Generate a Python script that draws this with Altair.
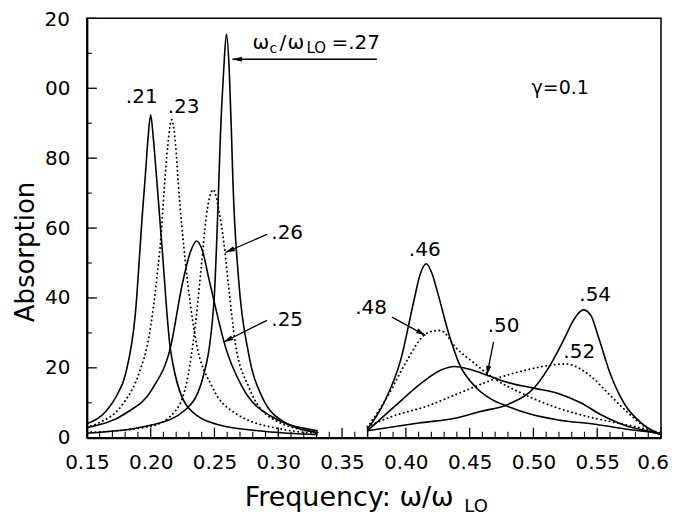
import math
import altair as alt
import pandas as pd

# ---------------- curve data ----------------
c21_x = [0.150, 0.165, 0.173, 0.1805, 0.188, 0.1935, 0.196, 0.198, 0.200, 0.202, 0.2045, 0.209, 0.2156, 0.2297, 0.2531, 0.290, 0.331]
c21_y = [4.0, 7.6, 11.8, 18.5, 35.5, 64.0, 76.0, 86.0, 92.4, 86.0, 75.0, 54.0, 25.0, 8.5, 3.7, 1.8, 0.9]

c23_x = [0.150, 0.1596, 0.1779, 0.1909, 0.1987, 0.2052, 0.2086, 0.2104, 0.2135, 0.2164, 0.2195, 0.2216, 0.2273, 0.235, 0.2482, 0.2664, 0.305, 0.331]
c23_y = [3.0, 4.3, 9.5, 18.5, 29.0, 47.0, 60.0, 70.0, 84.0, 91.0, 84.0, 73.0, 50.0, 28.7, 14.6, 7.0, 2.3, 1.3]

c25_x = [0.150, 0.1805, 0.2013, 0.2156, 0.2248, 0.231, 0.236, 0.241, 0.2453, 0.2508, 0.2586, 0.2716, 0.2951, 0.331]
c25_y = [2.9, 7.0, 14.0, 26.0, 44.0, 53.0, 56.3, 53.0, 46.0, 37.3, 26.0, 14.6, 6.0, 2.0]

c26_x = [0.150, 0.1992, 0.2201, 0.2305, 0.2357, 0.2396, 0.2435, 0.249, 0.2535, 0.2573, 0.2612, 0.2664, 0.2768, 0.2951, 0.331]
c26_y = [1.5, 3.2, 8.0, 20.3, 34.5, 48.7, 63.0, 71.0, 65.0, 56.0, 43.0, 27.0, 14.6, 5.5, 1.5]

c27_x = [0.150, 0.2013, 0.2273, 0.2404, 0.2495, 0.2534, 0.2545, 0.2572, 0.2594, 0.2616, 0.2635, 0.2645, 0.269, 0.2768, 0.2873, 0.3055, 0.331]
c27_y = [1.3, 3.7, 8.0, 16.5, 38.4, 73.0, 85.0, 105.0, 115.5, 105.0, 85.0, 73.0, 45.0, 24.0, 11.7, 4.3, 1.5]

c46_x = [0.370, 0.3828, 0.3959, 0.4063, 0.411, 0.416, 0.4205, 0.4245, 0.4336, 0.4414, 0.4544, 0.4662, 0.4805, 0.4974, 0.5195, 0.5495, 0.5716, 0.5963, 0.600]
c46_y = [2.5, 10.0, 22.2, 39.2, 46.5, 49.8, 47.0, 42.1, 29.8, 21.5, 14.6, 11.2, 8.9, 6.8, 5.1, 3.8, 2.5, 1.3, 1.0]

c48_x = [0.370, 0.3854, 0.401, 0.4141, 0.4210, 0.4271, 0.431, 0.4375, 0.452, 0.469, 0.491, 0.516, 0.543, 0.570, 0.5898, 0.600]
c48_y = [3.0, 11.7, 22.2, 29.3, 30.5, 30.7, 29.8, 26.5, 21.8, 17.0, 12.7, 8.9, 6.0, 3.9, 2.3, 1.3]

c50_x = [0.370, 0.391, 0.4134, 0.4271, 0.438, 0.450, 0.460, 0.478, 0.500, 0.520, 0.537, 0.553, 0.572, 0.597, 0.600]
c50_y = [2.0, 8.9, 16.0, 19.3, 20.4, 19.6, 18.4, 16.0, 14.2, 12.6, 10.0, 6.6, 3.5, 1.3, 1.0]

c52_x = [0.370, 0.3893, 0.4154, 0.4414, 0.4674, 0.4935, 0.5143, 0.525, 0.5456, 0.5586, 0.5716, 0.5872, 0.600]
c52_y = [3.2, 6.1, 8.9, 12.7, 16.5, 19.3, 20.8, 21.1, 17.4, 12.7, 8.0, 3.2, 1.0]

c54_x = [0.370, 0.410, 0.4414, 0.4583, 0.4805, 0.5013, 0.5143, 0.5248, 0.5313, 0.5391, 0.545, 0.5508, 0.5605, 0.5716, 0.5846, 0.5977, 0.600]
c54_y = [2.0, 4.2, 5.8, 7.5, 9.6, 14.6, 21.5, 28.8, 33.6, 36.6, 35.0, 29.0, 18.0, 9.5, 4.2, 1.3, 1.0]

curve_names = [".21", ".23", ".25", ".26", ".27", ".46", ".48", ".50", ".52", ".54"]
curve_styles = ["solid", "dotted", "solid", "dotted", "solid", "solid", "dotted", "solid", "dotted", "solid"]
curve_xs = [c21_x, c23_x, c25_x, c26_x, c27_x, c46_x, c48_x, c50_x, c52_x, c54_x]
curve_ys = [c21_y, c23_y, c25_y, c26_y, c27_y, c46_y, c48_y, c50_y, c52_y, c54_y]

# labels of curves
lbl_text = [".21", ".23", ".26", ".25", ".46", ".48", ".50", ".52", ".54"]
lbl_x = [0.1930, 0.2258, 0.3070, 0.3070, 0.4148, 0.3727, 0.4766, 0.5359, 0.5484]
lbl_y = [97.5, 94.7, 58.6, 33.8, 53.7, 37.0, 32.1, 24.5, 40.7]

# arrows (tail -> head)
arr_x0 = [0.3773, 0.2912, 0.2912, 0.3891, 0.4688]
arr_y0 = [108.3, 58.2, 33.6, 34.5, 27.4]
arr_x1 = [0.2641, 0.2586, 0.2573, 0.4153, 0.4635]
arr_y1 = [108.3, 53.0, 27.4, 29.3, 17.9]

ann27_x = [0.2799]
ann27_y = [111.2]
ann27_parts = ["ω", "c", "/", "ω", "LO", "=.27"]

gamma_text = ["γ=0.1"]
gamma_x = [0.5210]
gamma_y = [100.1]

gap_x = [0.37]
gap_y0 = [0.0]
gap_y1 = [3.2]

x_major = [0.15, 0.20, 0.25, 0.30, 0.35, 0.40, 0.45, 0.50, 0.55, 0.60]
x_minor = [round(0.15 + 0.01 * i, 2) for i in range(46) if i % 5 != 0]
y_major = [0, 20, 40, 60, 80, 100, 120]
y_minor = [10, 30, 50, 70, 90, 110]
last_x_label = ["0.6"]
last_x_value = [0.60]
top_y_label = ["20"]

# ---------------- chart ----------------
W, H = 575, 420
FONT = "DejaVu Sans"

rows = []
for name, style, xs, ys in zip(curve_names, curve_styles, curve_xs, curve_ys):
    for x, y in zip(xs, ys):
        rows.append({"x": x, "y": y, "curve": name, "style": style})
df = pd.DataFrame(rows)

xscale = alt.Scale(domain=[0.15, 0.60], nice=False, zero=False)
yscale = alt.Scale(domain=[0, 120], nice=False, zero=False)

x_axis = alt.Axis(values=x_major, title=None, grid=False, ticks=False, tickSize=0,
                  labelExpr="datum.value > 0.59 ? '' : format(datum.value, '.2f')",
                  labelFont=FONT, labelFontSize=20, labelColor="black", labelPadding=15,
                  labelFlush=False, labelOverlap=False, domainColor="black", domainWidth=2)
y_axis = alt.Axis(values=y_major, title=None, grid=False, ticks=False, tickSize=0,
                  labelExpr="datum.value == 100 ? '00' : datum.value == 120 ? '' : format(datum.value, 'd')",
                  labelFont=FONT, labelFontSize=20, labelColor="black", labelPadding=17,
                  labelFlush=False, labelOverlap=False, domainColor="black", domainWidth=2)


def X(f="x"):
    return alt.X(f, type="quantitative", scale=xscale, axis=x_axis)


def Y(f="y"):
    return alt.Y(f, type="quantitative", scale=yscale, axis=y_axis)


solid = alt.Chart(df).transform_filter(alt.datum.style == "solid").mark_line(
    color="black", strokeWidth=1.6, interpolate="monotone", clip=True
).encode(x=X(), y=Y(), detail="curve:N")

dotted = alt.Chart(df).transform_filter(alt.datum.style == "dotted").mark_line(
    color="black", strokeWidth=1.9, strokeDash=[0.1, 4.2], strokeCap="round",
    interpolate="monotone", clip=True
).encode(x=X(), y=Y(), detail="curve:N")

gap = alt.Chart(pd.DataFrame({"x": gap_x, "y": gap_y0, "y2": gap_y1})).mark_rule(
    color="black", strokeWidth=1.4
).encode(x=X(), y=Y(), y2="y2")

# inward ticks
xt_major = alt.Chart(pd.DataFrame({"x": x_major})).mark_rule(color="black", strokeWidth=1.3).encode(
    x=X(), y=alt.value(H), y2=alt.value(H - 10))
xt_minor = alt.Chart(pd.DataFrame({"x": x_minor})).mark_rule(color="black", strokeWidth=1.1).encode(
    x=X(), y=alt.value(H), y2=alt.value(H - 6))
yt_major = alt.Chart(pd.DataFrame({"y": y_major})).mark_rule(color="black", strokeWidth=1.3).encode(
    y=Y(), x=alt.value(0), x2=alt.value(10))
yt_minor = alt.Chart(pd.DataFrame({"y": y_minor})).mark_rule(color="black", strokeWidth=1.1).encode(
    y=Y(), x=alt.value(0), x2=alt.value(5))

# last x tick label, set slightly inside the frame as in the original
last_lbl = alt.Chart(pd.DataFrame({"x": last_x_value, "t": last_x_label})).mark_text(
    font=FONT, fontSize=20, color="black", align="right", baseline="top", dx=8
).encode(x=X(), y=alt.value(H + 15), text="t:N")

# top y tick label (kept inside the page)
top_lbl = alt.Chart(pd.DataFrame({"t": top_y_label})).mark_text(
    font=FONT, fontSize=20, color="black", align="right", baseline="top"
).encode(x=alt.value(-17), y=alt.value(-8), text="t:N")

labels = alt.Chart(pd.DataFrame({"x": lbl_x, "y": lbl_y, "t": lbl_text})).mark_text(
    font=FONT, fontSize=20, color="black", align="center", baseline="middle"
).encode(x=X(), y=Y(), text="t:N")

gamma = alt.Chart(pd.DataFrame({"x": gamma_x, "y": gamma_y, "t": gamma_text})).mark_text(
    font=FONT, fontSize=19, color="black", align="center", baseline="middle"
).encode(x=X(), y=Y(), text="t:N")

# arrows
sx = W / 0.45
sy = H / 120.0
angles = [math.degrees(math.atan2(-(b1 - b0) * sy, (a1 - a0) * sx))
          for a0, b0, a1, b1 in zip(arr_x0, arr_y0, arr_x1, arr_y1)]
arr_df = pd.DataFrame({"x": arr_x0, "y": arr_y0, "x2": arr_x1, "y2": arr_y1})
arr_lines = alt.Chart(arr_df).mark_rule(color="black", strokeWidth=1.3).encode(
    x=X(), y=Y(), x2="x2", y2="y2")
head_df = pd.DataFrame({"x": arr_x1, "y": arr_y1, "a": angles})
arr_heads = alt.Chart(head_df).mark_point(
    shape="M0,0L-2,-0.55L-2,0.55Z", filled=True, color="black", size=90, opacity=1, strokeWidth=0
).encode(x=X(), y=Y(), angle=alt.Angle("a:Q", scale=None))

# omega_c / omega_LO = .27 annotation
ann_df = pd.DataFrame({"x": ann27_x, "y": ann27_y})
piece_style = [(0, 0, 20), (17, 4, 14), (27, 0, 20), (35, 0, 20), (54, 4, 15), (79, 0, 20)]
ann_layers = []
for txt, (ddx, ddy, fs) in zip(ann27_parts, piece_style):
    ann_layers.append(alt.Chart(ann_df).mark_text(
        text=txt, font=FONT, fontSize=fs, color="black", align="left", baseline="alphabetic",
        dx=ddx, dy=ddy).encode(x=X(), y=Y()))

# axis titles (drawn as text so the subscript can be set)
one = pd.DataFrame({"k": [0]})
ytitle = alt.Chart(one).mark_text(
    text="Absorption", font=FONT, fontSize=26, color="black", angle=270,
    align="center", baseline="middle").encode(x=alt.value(-61), y=alt.value(234))
xtitle1 = alt.Chart(one).mark_text(
    text="Frequency: ω/ω", font=FONT, fontSize=27, color="black",
    align="left", baseline="alphabetic").encode(x=alt.value(158), y=alt.value(488))
xtitle2 = alt.Chart(one).mark_text(
    text="LO", font=FONT, fontSize=18, color="black",
    align="left", baseline="alphabetic").encode(x=alt.value(378), y=alt.value(494))

chart = alt.layer(
    xt_minor, xt_major, yt_minor, yt_major,
    solid, dotted, gap, arr_lines, arr_heads, labels, gamma, last_lbl, top_lbl,
    *ann_layers, ytitle, xtitle1, xtitle2
).properties(
    width=W, height=H,
    autosize=alt.AutoSizeParams(type="none"),
    padding={"left": 79, "top": 10, "right": 14, "bottom": 81},
).configure_view(stroke="black", strokeWidth=1.5)

chart.save("out.html", embed_options={"renderer": "svg", "actions": False})
